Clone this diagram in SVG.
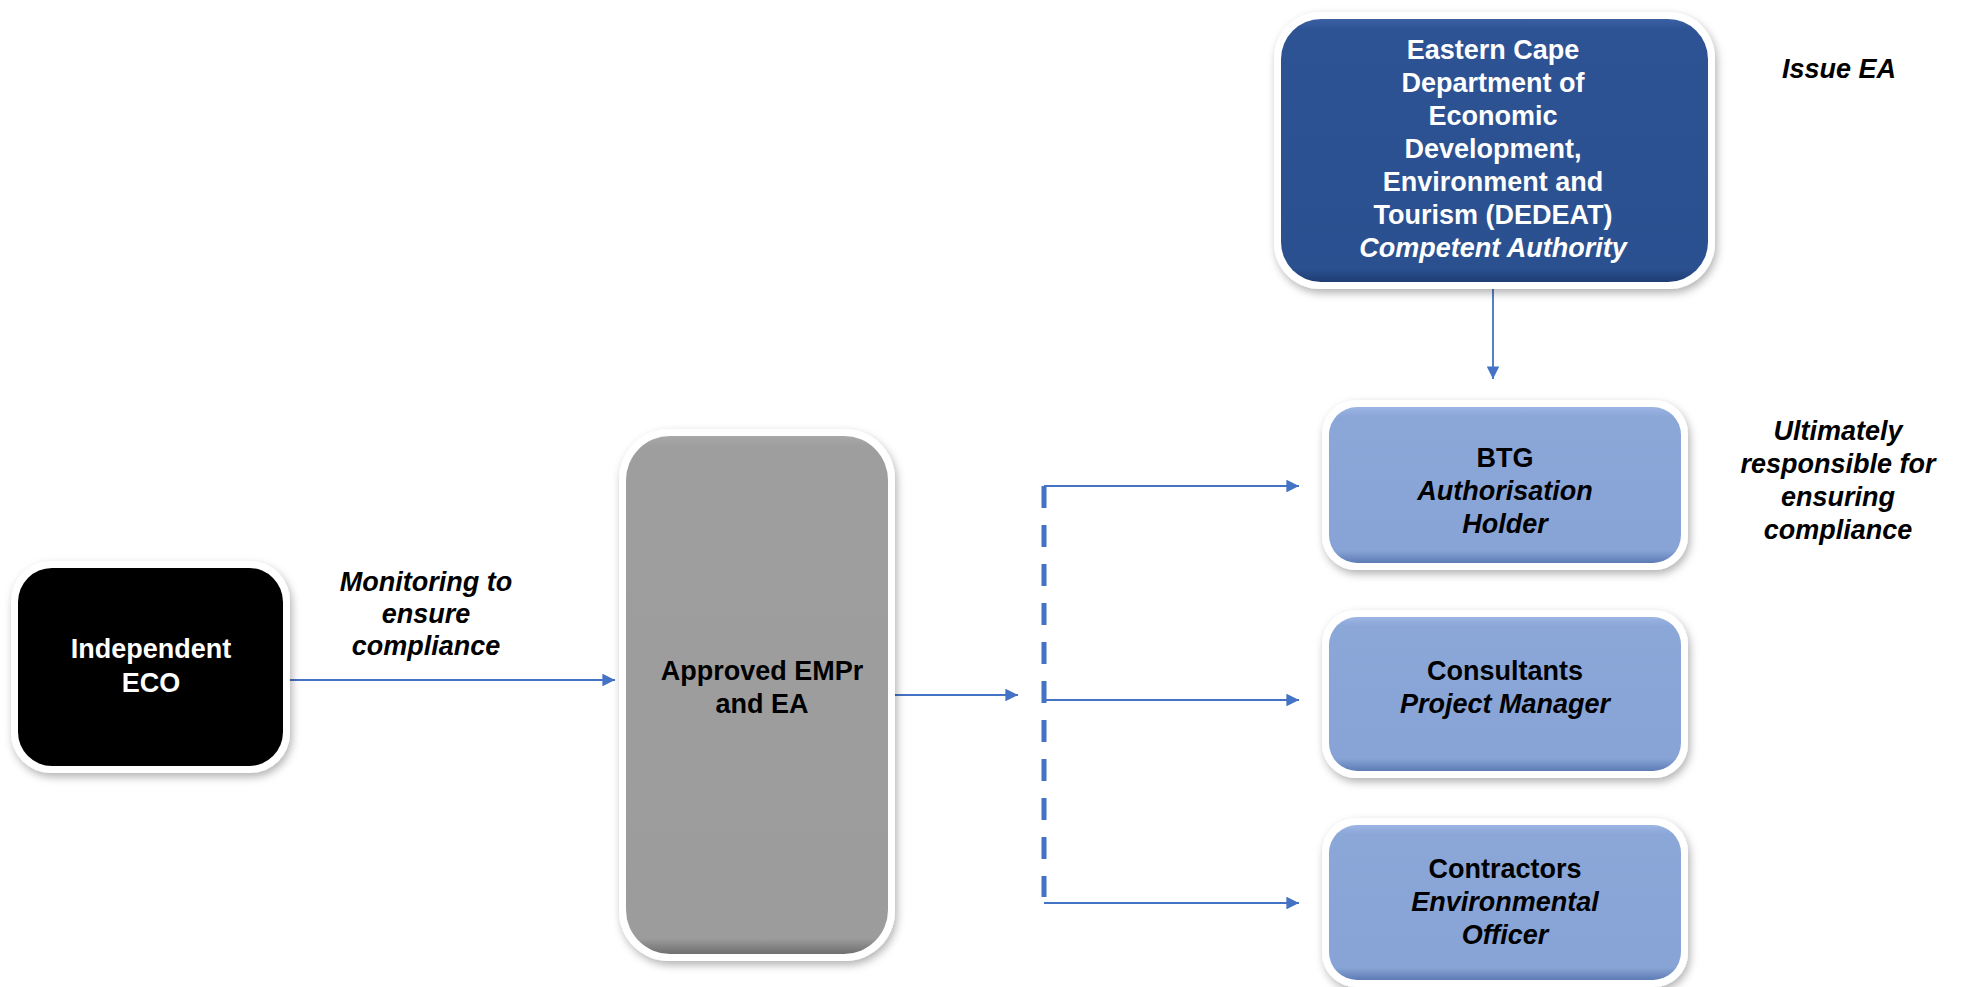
<svg xmlns="http://www.w3.org/2000/svg" width="1966" height="987" viewBox="0 0 1966 987">
<defs>
<style>
.t{font-family:"Liberation Sans",Arial,sans-serif;font-weight:bold;font-size:27px;text-anchor:middle}
.i{font-style:italic}
.w{fill:#ffffff}
.k{fill:#000000}
.frame{fill:#ffffff;filter:url(#sh)}
.conn{stroke:#4472C4;stroke-width:1.8;fill:none}
</style>
<filter id="sh" x="-20%" y="-20%" width="140%" height="140%">
<feDropShadow dx="2" dy="4" stdDeviation="4" flood-color="#000" flood-opacity="0.3"/>
</filter>
<linearGradient id="gDark" x1="0" y1="0" x2="0" y2="1">
<stop offset="0" stop-color="#3a60a3"/><stop offset="0.04" stop-color="#2d5394"/><stop offset="0.95" stop-color="#2b5090"/><stop offset="1" stop-color="#1e3d72"/>
</linearGradient>
<linearGradient id="gLight" x1="0" y1="0" x2="0" y2="1">
<stop offset="0" stop-color="#9bb5e3"/><stop offset="0.06" stop-color="#8ba7d8"/><stop offset="0.92" stop-color="#88a4d6"/><stop offset="1" stop-color="#5d7cb5"/>
</linearGradient>
<linearGradient id="gGray" x1="0" y1="0" x2="0" y2="1">
<stop offset="0" stop-color="#a8a8a8"/><stop offset="0.02" stop-color="#9e9e9e"/><stop offset="0.97" stop-color="#9c9c9c"/><stop offset="1" stop-color="#6f6f6f"/>
</linearGradient>
<marker id="ah" viewBox="0 0 10 10" refX="10" refY="5" markerWidth="7" markerHeight="7" markerUnits="strokeWidth" orient="auto">
<path d="M0,0 L10,5 L0,10 z" fill="#4472C4"/>
</marker>
</defs>
<rect width="1966" height="987" fill="#ffffff"/>

<g id="connectors">
<line class="conn" x1="1493" y1="288" x2="1493" y2="379" marker-end="url(#ah)"/>
<line class="conn" x1="288" y1="680" x2="615" y2="680" marker-end="url(#ah)"/>
<line class="conn" x1="894" y1="695" x2="1018" y2="695" marker-end="url(#ah)"/>
<line x1="1044" y1="486" x2="1044" y2="897" stroke="#4472C4" stroke-width="5" stroke-dasharray="22 17"/>
<line class="conn" x1="1044" y1="486" x2="1299" y2="486" marker-end="url(#ah)"/>
<line class="conn" x1="1044" y1="700" x2="1299" y2="700" marker-end="url(#ah)"/>
<line class="conn" x1="1044" y1="903" x2="1299" y2="903" marker-end="url(#ah)"/>
</g>

<g id="dedeat">
<rect class="frame" x="1274" y="12" width="441" height="277" rx="46"/>
<rect x="1281" y="19" width="427" height="263" rx="40" fill="url(#gDark)"/>
<text class="t w" x="1493" y="59">Eastern Cape</text>
<text class="t w" x="1493" y="92">Department of</text>
<text class="t w" x="1493" y="125">Economic</text>
<text class="t w" x="1493" y="158">Development,</text>
<text class="t w" x="1493" y="191">Environment and</text>
<text class="t w" x="1493" y="224">Tourism (DEDEAT)</text>
<text class="t w i" x="1493" y="257">Competent Authority</text>
</g>

<g id="issue-ea">
<text class="t k i" x="1839" y="78">Issue EA</text>
</g>

<g id="btg">
<rect class="frame" x="1322" y="400" width="366" height="170" rx="34"/>
<rect x="1329" y="407" width="352" height="156" rx="28" fill="url(#gLight)"/>
<text class="t k" x="1505" y="467">BTG</text>
<text class="t k i" x="1505" y="500">Authorisation</text>
<text class="t k i" x="1505" y="533">Holder</text>
</g>

<g id="responsible">
<text class="t k i" x="1838" y="440">Ultimately</text>
<text class="t k i" x="1838" y="473">responsible for</text>
<text class="t k i" x="1838" y="506">ensuring</text>
<text class="t k i" x="1838" y="539">compliance</text>
</g>

<g id="consultants">
<rect class="frame" x="1322" y="610" width="366" height="168" rx="34"/>
<rect x="1329" y="617" width="352" height="154" rx="28" fill="url(#gLight)"/>
<text class="t k" x="1505" y="680">Consultants</text>
<text class="t k i" x="1505" y="713">Project Manager</text>
</g>

<g id="contractors">
<rect class="frame" x="1322" y="818" width="366" height="169" rx="34"/>
<rect x="1329" y="825" width="352" height="155" rx="28" fill="url(#gLight)"/>
<text class="t k" x="1505" y="878">Contractors</text>
<text class="t k i" x="1505" y="911">Environmental</text>
<text class="t k i" x="1505" y="944">Officer</text>
</g>

<g id="eco">
<rect class="frame" x="11" y="561" width="279" height="212" rx="40"/>
<rect x="18" y="568" width="265" height="198" rx="34" fill="#000000"/>
<text class="t w" x="151" y="658">Independent</text>
<text class="t w" x="151" y="692">ECO</text>
</g>

<g id="monitoring">
<text class="t k i" x="426" y="591">Monitoring to</text>
<text class="t k i" x="426" y="623">ensure</text>
<text class="t k i" x="426" y="655">compliance</text>
</g>

<g id="approved">
<rect class="frame" x="619" y="429" width="276" height="532" rx="50"/>
<rect x="626" y="436" width="262" height="518" rx="44" fill="url(#gGray)"/>
<text class="t k" x="762" y="680">Approved EMPr</text>
<text class="t k" x="762" y="713">and EA</text>
</g>
</svg>
